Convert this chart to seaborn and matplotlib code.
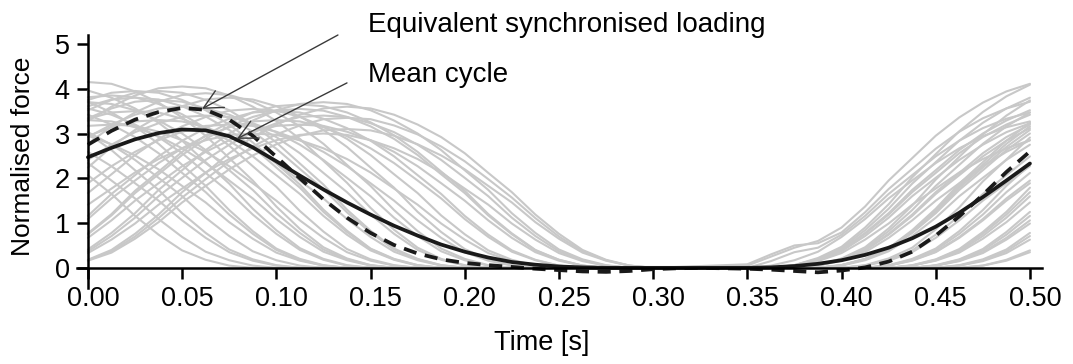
import matplotlib
matplotlib.use("Agg")
import matplotlib.pyplot as plt
import matplotlib.transforms as mtransforms
import pandas as pd
import seaborn as sns

# Sample times of the individual footfall traces
first_times = [0.0, 0.0125, 0.025, 0.0375, 0.05, 0.0625, 0.075, 0.0875, 0.1, 0.1125,
               0.125, 0.1375, 0.15, 0.1625, 0.175, 0.1875, 0.2, 0.2125, 0.225, 0.2375,
               0.25, 0.2625, 0.275, 0.2875, 0.3]
next_times = [0.35, 0.3625, 0.375, 0.3875, 0.4, 0.4125, 0.425, 0.4375, 0.45, 0.4625,
              0.475, 0.4875, 0.5]

# Normalised force of each trace during the first pulse (from 0 s; zero afterwards)
first_pulse = [
    [4.15, 4.11, 3.94, 3.69, 3.36, 2.95, 2.45, 1.95, 1.37, 0.87, 0.46, 0.21, 0.06],
    [3.71, 3.47, 3.16, 2.77, 2.30, 1.83, 1.29, 0.82, 0.43, 0.20, 0.06],
    [3.00, 2.63, 2.18, 1.74, 1.22, 0.78, 0.41, 0.19, 0.06],
    [3.56, 3.42, 3.20, 2.92, 2.56, 2.12, 1.69, 1.19, 0.76, 0.40, 0.18, 0.05],
    [3.30, 3.27, 3.14, 2.94, 2.67, 2.34, 1.95, 1.55, 1.09, 0.69, 0.36, 0.17, 0.05],
    [3.03, 2.75, 2.41, 2.01, 1.60, 1.12, 0.71, 0.37, 0.17, 0.05],
    [2.07, 1.65, 1.16, 0.74, 0.39, 0.18, 0.05],
    [3.81, 3.85, 3.81, 3.66, 3.43, 3.12, 2.73, 2.27, 1.81, 1.27, 0.81, 0.42, 0.19, 0.06],
    [2.95, 2.76, 2.51, 2.20, 1.83, 1.46, 1.02, 0.65, 0.34, 0.16, 0.05],
    [2.59, 2.27, 1.89, 1.50, 1.06, 0.67, 0.35, 0.16, 0.05],
    [3.75, 3.91, 3.95, 3.91, 3.75, 3.52, 3.20, 2.80, 2.33, 1.86, 1.30, 0.83, 0.43, 0.20, 0.06],
    [3.28, 3.60, 3.85, 4.01, 4.05, 4.01, 3.85, 3.60, 3.28, 2.88, 2.39, 1.90, 1.34, 0.85,
     0.45, 0.20, 0.06],
    [3.34, 3.56, 3.71, 3.75, 3.71, 3.56, 3.34, 3.04, 2.66, 2.21, 1.76, 1.24, 0.79, 0.41,
     0.19, 0.06],
    [2.77, 3.16, 3.47, 3.71, 3.86, 3.90, 3.86, 3.71, 3.47, 3.16, 2.77, 2.30, 1.83, 1.29,
     0.82, 0.43, 0.20, 0.06],
    [3.33, 3.47, 3.50, 3.47, 3.33, 3.12, 2.84, 2.49, 2.07, 1.65, 1.16, 0.74, 0.39, 0.18, 0.05],
    [2.92, 3.20, 3.42, 3.56, 3.60, 3.56, 3.42, 3.20, 2.92, 2.56, 2.12, 1.69, 1.19, 0.76,
     0.40, 0.18, 0.05],
    [2.24, 2.70, 3.08, 3.38, 3.61, 3.76, 3.80, 3.76, 3.61, 3.38, 3.08, 2.70, 2.24, 1.79,
     1.25, 0.80, 0.42, 0.19, 0.06],
    [1.67, 2.09, 2.52, 2.88, 3.16, 3.37, 3.51, 3.55, 3.51, 3.37, 3.16, 2.88, 2.52, 2.09,
     1.67, 1.17, 0.75, 0.39, 0.18, 0.05],
    [2.94, 3.14, 3.27, 3.30, 3.27, 3.14, 2.94, 2.67, 2.34, 1.95, 1.55, 1.09, 0.69, 0.36,
     0.17, 0.05],
    [2.41, 2.75, 3.03, 3.23, 3.37, 3.40, 3.37, 3.23, 3.03, 2.75, 2.41, 2.01, 1.60, 1.12,
     0.71, 0.37, 0.17, 0.05],
    [1.89, 2.27, 2.59, 2.85, 3.04, 3.17, 3.20, 3.17, 3.04, 2.85, 2.59, 2.27, 1.89, 1.50,
     1.06, 0.67, 0.35, 0.16, 0.05],
    [1.16, 1.65, 2.07, 2.49, 2.84, 3.12, 3.33, 3.47, 3.50, 3.47, 3.33, 3.12, 2.84, 2.49,
     2.07, 1.65, 1.16, 0.74, 0.39, 0.18, 0.05],
    [0.77, 1.20, 1.72, 2.15, 2.59, 2.96, 3.25, 3.47, 3.61, 3.65, 3.61, 3.47, 3.25, 2.96,
     2.59, 2.15, 1.72, 1.20, 0.77, 0.40, 0.18, 0.05],
    [0.41, 0.78, 1.22, 1.74, 2.18, 2.63, 3.00, 3.29, 3.52, 3.66, 3.70, 3.66, 3.52, 3.29,
     3.00, 2.63, 2.18, 1.74, 1.22, 0.78, 0.41, 0.19, 0.06],
    [0.18, 0.40, 0.76, 1.19, 1.69, 2.12, 2.56, 2.92, 3.20, 3.42, 3.56, 3.60, 3.56, 3.42,
     3.20, 2.92, 2.56, 2.12, 1.69, 1.19, 0.76, 0.40, 0.18, 0.05],
    [0.17, 0.37, 0.70, 1.11, 1.57, 1.98, 2.38, 2.71, 2.98, 3.18, 3.32, 3.35, 3.32, 3.18,
     2.98, 2.71, 2.38, 1.98, 1.57, 1.11, 0.70, 0.37, 0.17, 0.05],
    [1.09, 1.55, 1.95, 2.34, 2.67, 2.94, 3.14, 3.27, 3.30, 3.27, 3.14, 2.94, 2.67, 2.34,
     1.95, 1.55, 1.09, 0.69, 0.36, 0.17, 0.05],
    [0.37, 0.71, 1.12, 1.60, 2.01, 2.41, 2.75, 3.03, 3.23, 3.37, 3.40, 3.37, 3.23, 3.03,
     2.75, 2.41, 2.01, 1.60, 1.12, 0.71, 0.37, 0.17, 0.05],
    [0.67, 1.06, 1.50, 1.89, 2.27, 2.59, 2.85, 3.04, 3.17, 3.20, 3.17, 3.04, 2.85, 2.59,
     2.27, 1.89, 1.50, 1.06, 0.67, 0.35, 0.16, 0.05],
    [0.16, 0.34, 0.65, 1.02, 1.46, 1.83, 2.20, 2.51, 2.76, 2.95, 3.07, 3.10, 3.07, 2.95,
     2.76, 2.51, 2.20, 1.83, 1.46, 1.02, 0.65, 0.34, 0.16, 0.05],
    [1.41, 1.77, 2.13, 2.43, 2.67, 2.85, 2.97, 3.00, 2.97, 2.85, 2.67, 2.43, 2.13, 1.77,
     1.41, 0.99, 0.63, 0.33, 0.15, 0.05],
    [2.34, 1.95, 1.55, 1.09, 0.69, 0.36, 0.17, 0.05],
    [3.17, 3.20, 3.17, 3.04, 2.85, 2.59, 2.27, 1.89, 1.50, 1.06, 0.67, 0.35, 0.16, 0.05],
    [0.33, 0.63, 0.99, 1.41, 1.77, 2.13, 2.43, 2.67, 2.85, 2.97, 3.00, 2.97, 2.85, 2.67,
     2.43, 2.13, 1.77, 1.41, 0.99, 0.63, 0.33, 0.15, 0.05],
    [0.75, 1.17, 1.67, 2.09, 2.52, 2.88, 3.16, 3.37, 3.51, 3.55, 3.51, 3.37, 3.16, 2.88,
     2.52, 2.09, 1.67, 1.17, 0.75, 0.39, 0.18, 0.05],
    [3.96, 3.80, 3.56, 3.24, 2.84, 2.36, 1.88, 1.32, 0.84, 0.44, 0.20, 0.06],
    [3.61, 3.76, 3.80, 3.76, 3.61, 3.38, 3.08, 2.70, 2.24, 1.79, 1.25, 0.80, 0.42, 0.19, 0.06],
    [3.70, 3.66, 3.52, 3.29, 3.00, 2.63, 2.18, 1.74, 1.22, 0.78, 0.41, 0.19, 0.06],
    [3.52, 3.75, 3.91, 3.95, 3.91, 3.75, 3.52, 3.20, 2.80, 2.33, 1.86, 1.30, 0.83, 0.43,
     0.20, 0.06],
    [3.42, 3.20, 2.92, 2.56, 2.12, 1.69, 1.19, 0.76, 0.40, 0.18, 0.05],
]

# Normalised force of the same traces at the start of the next pulse (up to 0.5 s)
next_pulse = [
    [0.05, 0.25, 0.45, 0.60, 0.90, 1.37, 1.95, 2.45, 2.95, 3.36, 3.69, 3.94, 4.11],
    [0, 0, 0.06, 0.20, 0.44, 0.84, 1.32, 1.88, 2.36, 2.84, 3.24, 3.56, 3.80],
    [0.08, 0.30, 0.50, 0.55, 0.79, 1.24, 1.76, 2.21, 2.66, 3.04, 3.34, 3.56, 3.71],
    [0, 0, 0, 0.06, 0.20, 0.43, 0.82, 1.29, 1.83, 2.30, 2.77, 3.16, 3.47],
    [0, 0, 0.05, 0.17, 0.37, 0.71, 1.12, 1.60, 2.01, 2.41, 2.75, 3.03, 3.23],
    [0, 0.05, 0.17, 0.36, 0.69, 1.09, 1.55, 1.95, 2.34, 2.67, 2.94, 3.14, 3.27],
    [0, 0, 0.05, 0.18, 0.40, 0.76, 1.19, 1.69, 2.12, 2.56, 2.92, 3.20, 3.42],
    [0, 0, 0, 0, 0.06, 0.20, 0.43, 0.82, 1.29, 1.83, 2.30, 2.77, 3.16],
    [0, 0, 0, 0.05, 0.16, 0.35, 0.67, 1.06, 1.50, 1.89, 2.27, 2.59, 2.85],
    [0, 0, 0.05, 0.15, 0.33, 0.63, 0.99, 1.41, 1.77, 2.13, 2.43, 2.67, 2.85],
    [0, 0, 0, 0.06, 0.21, 0.46, 0.88, 1.39, 1.97, 2.48, 2.98, 3.40, 3.74],
    [0, 0, 0, 0, 0, 0.06, 0.21, 0.45, 0.86, 1.35, 1.93, 2.42, 2.91],
    [0, 0, 0, 0, 0.06, 0.19, 0.41, 0.78, 1.22, 1.74, 2.18, 2.63, 3.00],
    [0, 0, 0, 0, 0, 0, 0.06, 0.20, 0.43, 0.82, 1.29, 1.83, 2.30],
    [0, 0, 0, 0, 0.05, 0.17, 0.37, 0.71, 1.12, 1.60, 2.01, 2.41, 2.75],
    [0, 0, 0, 0, 0, 0.05, 0.18, 0.39, 0.74, 1.16, 1.65, 2.07, 2.49],
    [0, 0, 0, 0, 0, 0, 0.05, 0.18, 0.40, 0.76, 1.19, 1.69, 2.12],
    [0, 0, 0, 0, 0, 0, 0, 0.05, 0.18, 0.40, 0.76, 1.19, 1.69],
    [0, 0, 0, 0, 0, 0.05, 0.16, 0.35, 0.67, 1.06, 1.50, 1.89, 2.27],
    [0, 0, 0, 0, 0, 0, 0.05, 0.17, 0.36, 0.69, 1.09, 1.55, 1.95],
    [0, 0, 0, 0, 0, 0, 0, 0.05, 0.16, 0.34, 0.65, 1.02, 1.46],
    [0, 0, 0, 0, 0, 0, 0, 0, 0.05, 0.18, 0.39, 0.74, 1.16],
    [0, 0, 0, 0, 0, 0, 0, 0, 0.06, 0.19, 0.42, 0.80, 1.25],
    [0, 0, 0, 0, 0, 0, 0, 0, 0, 0.06, 0.19, 0.41, 0.78],
    [0, 0, 0, 0, 0, 0, 0, 0, 0, 0.05, 0.17, 0.37, 0.71],
    [0, 0, 0, 0, 0, 0, 0, 0, 0, 0, 0.05, 0.18, 0.39],
    [0, 0, 0, 0, 0, 0, 0, 0.05, 0.17, 0.37, 0.71, 1.12, 1.60],
    [0, 0, 0, 0, 0, 0, 0, 0, 0.05, 0.16, 0.35, 0.67, 1.06],
    [0, 0, 0, 0, 0, 0, 0, 0, 0, 0.05, 0.15, 0.33, 0.63],
    [0, 0, 0, 0, 0, 0, 0, 0, 0, 0, 0.05, 0.16, 0.35],
    [0, 0, 0, 0, 0, 0, 0.05, 0.16, 0.35, 0.67, 1.06, 1.50, 1.89],
    [0, 0.15, 0.35, 0.45, 0.74, 1.16, 1.65, 2.07, 2.49, 2.84, 3.12, 3.33, 3.47],
    [0, 0, 0, 0.05, 0.18, 0.39, 0.74, 1.16, 1.65, 2.07, 2.49, 2.84, 3.12],
    [0, 0, 0, 0, 0, 0, 0, 0, 0.05, 0.15, 0.33, 0.63, 0.99],
    [0, 0, 0, 0, 0, 0, 0, 0.06, 0.19, 0.42, 0.80, 1.25, 1.79],
    [0, 0, 0.06, 0.22, 0.47, 0.90, 1.42, 2.02, 2.54, 3.05, 3.48, 3.83, 4.09],
    [0, 0, 0, 0, 0.06, 0.19, 0.42, 0.80, 1.25, 1.79, 2.24, 2.70, 3.08],
    [0, 0, 0.06, 0.19, 0.41, 0.78, 1.22, 1.74, 2.18, 2.63, 3.00, 3.29, 3.52],
    [0, 0, 0, 0, 0.06, 0.20, 0.44, 0.84, 1.32, 1.88, 2.36, 2.84, 3.24],
    [0, 0, 0, 0.05, 0.18, 0.40, 0.76, 1.19, 1.69, 2.12, 2.56, 2.92, 3.20],
]

# Mean cycle and equivalent synchronised loading
curve_time = [0.0, 0.0125, 0.025, 0.0375, 0.05, 0.0625, 0.075, 0.0875, 0.1, 0.1125,
              0.125, 0.1375, 0.15, 0.1625, 0.175, 0.1875, 0.2, 0.2125, 0.225, 0.2375,
              0.25, 0.2625, 0.275, 0.2875, 0.3, 0.3125, 0.325, 0.3375, 0.35, 0.3625,
              0.375, 0.3875, 0.4, 0.4125, 0.425, 0.4375, 0.45, 0.4625, 0.475, 0.4875, 0.5]
mean_cycle = [2.47, 2.68, 2.87, 3.01, 3.09, 3.07, 2.94, 2.69, 2.38, 2.06,
              1.75, 1.46, 1.19, 0.94, 0.72, 0.52, 0.36, 0.23, 0.13, 0.07,
              0.03, 0.01, 0.0, 0.0, 0.0, 0.0, 0.0, 0.0, 0.0, 0.01,
              0.04, 0.09, 0.17, 0.29, 0.45, 0.66, 0.92, 1.23, 1.58, 1.95, 2.33]
equivalent_loading = [2.75, 3.06, 3.31, 3.48, 3.57, 3.53, 3.31, 2.95, 2.48, 2.00,
                      1.53, 1.12, 0.78, 0.51, 0.32, 0.19, 0.11, 0.06, 0.02, -0.02,
                      -0.05, -0.08, -0.09, -0.07, -0.03, -0.01, 0.0, -0.01, -0.02, -0.04,
                      -0.07, -0.10, -0.06, 0.01, 0.14, 0.36, 0.72, 1.15, 1.63, 2.14, 2.60]

x_ticks = [0.0, 0.05, 0.1, 0.15, 0.2, 0.25, 0.3, 0.35, 0.4, 0.45, 0.5]
y_ticks = [0, 1, 2, 3, 4, 5]

sns.set_style("ticks")
plt.rcParams["font.family"] = ["Liberation Sans", "DejaVu Sans"]
plt.rcParams["text.color"] = "black"
plt.rcParams["axes.labelcolor"] = "black"

# Long-form table: one row per sample, traces resting on zero between pulses
rows = []
trace_times = first_times + next_times
for trace_id, (head, tail) in enumerate(zip(first_pulse, next_pulse)):
    head_full = head + [0.0] * (len(first_times) - len(head))
    tail_full = [0.0] * (len(next_times) - len(tail)) + tail
    for t, f in zip(trace_times, head_full + tail_full):
        rows.append({"trace": trace_id, "time": t, "force": f})
traces = pd.DataFrame(rows)

curves = pd.DataFrame({"time": curve_time, "mean": mean_cycle, "equivalent": equivalent_loading})

fig = plt.figure(figsize=(10.73, 3.64), dpi=100)
ax = fig.add_axes([77 / 1073, 76 / 364, 965 / 1073, 253 / 364])

sns.lineplot(data=traces, x="time", y="force", units="trace", estimator=None,
             color="#c8c8c8", linewidth=1.5, legend=False, sort=False, ax=ax)
sns.lineplot(data=curves, x="time", y="mean", color="#1a1a1a", linewidth=2.7,
             legend=False, ax=ax)
sns.lineplot(data=curves, x="time", y="equivalent", color="#1a1a1a", linewidth=2.7,
             legend=False, ax=ax)
ax.lines[-1].set_dashes([3.5, 2.3])

ax.set_xlim(-0.0058, 0.5064)
ax.set_ylim(-0.45, 5.2)
ax.spines["left"].set_position(("data", 0))
ax.spines["bottom"].set_position(("data", 0))
ax.spines["top"].set_visible(False)
ax.spines["right"].set_visible(False)
for side in ("left", "bottom"):
    ax.spines[side].set_linewidth(1.8)
    ax.spines[side].set_color("black")

ax.set_xticks(x_ticks)
ax.set_xticklabels([f"{v:.2f}" for v in x_ticks])
ax.set_yticks(y_ticks)
ax.set_yticklabels([str(v) for v in y_ticks])
ax.tick_params(axis="both", direction="out", length=8, width=1.8, colors="black",
               labelsize=19.5, pad=5)
shift = mtransforms.ScaledTranslation(0.05, 0, fig.dpi_scale_trans)
for lab in ax.get_xticklabels():
    lab.set_transform(lab.get_transform() + shift)

ax.set_xlabel("Time [s]", fontsize=19.5)
ax.set_ylabel("Normalised force", fontsize=19)
ax.xaxis.set_label_coords(0.482, -0.217)
ax.xaxis.label.set_va("center")
ax.yaxis.set_label_coords(-0.056, 0.522)
ax.yaxis.label.set_va("center")

arrow = dict(arrowstyle="->", color="#3a3a3a", lw=1.0, mutation_scale=34, shrinkA=0, shrinkB=0)
ax.annotate("Equivalent synchronised loading", xy=(0.1486, 5.42), fontsize=20,
            va="center", ha="left", annotation_clip=False)
ax.annotate("", xy=(0.0605, 3.55), xytext=(0.1327, 5.2), arrowprops=arrow,
            annotation_clip=False)
ax.annotate("Mean cycle", xy=(0.1486, 4.31), fontsize=20, va="center", ha="left",
            annotation_clip=False)
ax.annotate("", xy=(0.079, 2.88), xytext=(0.1375, 4.13), arrowprops=arrow,
            annotation_clip=False)

fig.savefig("out.png", dpi=100)
